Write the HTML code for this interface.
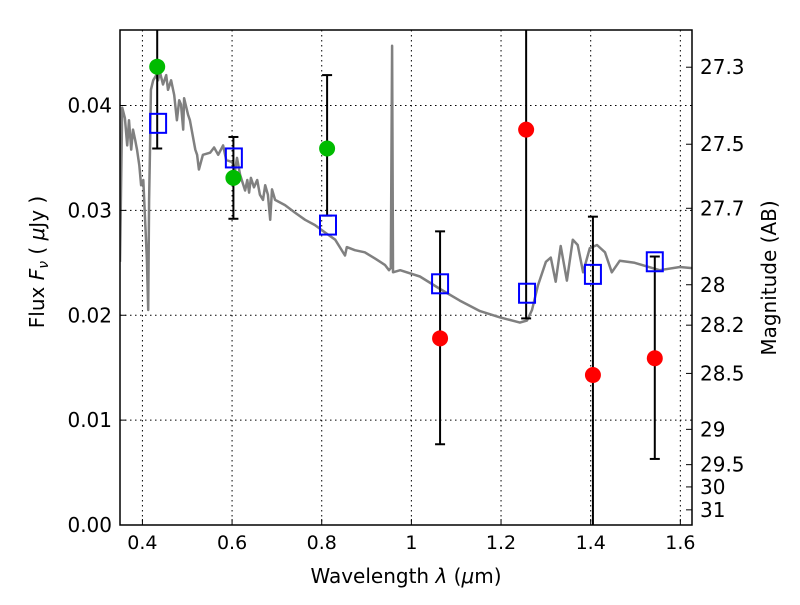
<!DOCTYPE html>
<html><head><meta charset="utf-8"><style>
body{margin:0;background:#fff;}
svg{font-family:"DejaVu Sans","Liberation Sans",sans-serif;}
</style></head><body>
<svg id="chart" width="800" height="600" viewBox="0 0 800 600" xmlns="http://www.w3.org/2000/svg">
<rect width="800" height="600" fill="#fff"/>
<g id="grid"></g>
<g id="spec"></g>
<g id="errs"></g>
<g id="marks"></g>
<g id="axes"></g>
<text x="406" y="583" font-size="20" text-anchor="middle">Wavelength  <tspan font-style="italic">λ</tspan> (<tspan font-style="italic">μ</tspan>m)</text>
<text transform="translate(44,262) rotate(-90)" font-size="20" text-anchor="middle">Flux  <tspan font-style="italic">F<tspan font-size="14" dy="4">ν</tspan></tspan><tspan dy="-4">  ( </tspan><tspan font-style="italic">μ</tspan>Jy )</text>
<text transform="translate(776,278) rotate(-90)" font-size="20" text-anchor="middle">Magnitude (AB)</text>
</svg>
<script>
const xTicks=[0.4,0.6,0.8,1,1.2,1.4,1.6];
const xTickLabels=["0.4","0.6","0.8","1","1.2","1.4","1.6"];
const yTicks=[0,0.01,0.02,0.03,0.04];
const yTickLabels=["0.00","0.01","0.02","0.03","0.04"];
const magTicks=[27.3,27.5,27.7,28,28.2,28.5,29,29.5,30,31];
const magTickLabels=["27.3","27.5","27.7","28","28.2","28.5","29","29.5","30","31"];
const specWave=[0.350,0.355,0.361,0.366,0.370,0.375,0.379,0.384,0.388,0.393,0.397,0.402,0.406,0.410,0.413,0.415,0.417,0.419,0.424,0.431,0.435,0.439,0.446,0.453,0.457,0.464,0.471,0.477,0.482,0.486,0.491,0.493,0.502,0.506,0.518,0.522,0.526,0.535,0.551,0.560,0.569,0.580,0.587,0.600,0.607,0.611,0.618,0.629,0.634,0.638,0.642,0.649,0.656,0.662,0.669,0.674,0.680,0.685,0.689,0.696,0.718,0.740,0.763,0.785,0.807,0.830,0.852,0.856,0.874,0.896,0.919,0.941,0.950,0.954,0.957,0.959,0.975,1.019,1.064,1.108,1.153,1.198,1.242,1.258,1.269,1.282,1.300,1.311,1.322,1.333,1.347,1.360,1.371,1.383,1.398,1.414,1.432,1.447,1.465,1.498,1.554,1.599,1.626];
const specFlux=[0.0251,0.0398,0.0388,0.0362,0.0386,0.0358,0.0377,0.0367,0.0358,0.0343,0.0324,0.0329,0.0291,0.0253,0.0205,0.0310,0.0358,0.0415,0.0424,0.0429,0.0424,0.0432,0.0420,0.0429,0.0415,0.0424,0.0410,0.0386,0.0405,0.0401,0.0377,0.0407,0.0391,0.0386,0.0358,0.0353,0.0339,0.0353,0.0355,0.0360,0.0353,0.0362,0.0348,0.0346,0.0339,0.0350,0.0334,0.0319,0.0329,0.0317,0.0331,0.0322,0.0329,0.0315,0.0310,0.0324,0.0315,0.0291,0.0320,0.0310,0.0305,0.0298,0.0291,0.0286,0.0279,0.0272,0.0257,0.0265,0.0262,0.0260,0.0254,0.0248,0.0243,0.0245,0.0457,0.0241,0.0243,0.0237,0.0225,0.0214,0.0204,0.0198,0.0193,0.0195,0.0205,0.0228,0.0251,0.0255,0.0232,0.0266,0.0233,0.0272,0.0267,0.0241,0.0264,0.0267,0.0260,0.0241,0.0252,0.0250,0.0243,0.0246,0.0245];
const obsWave=[0.433,0.603,0.812,1.064,1.256,1.405,1.543];
const obsFlux=[0.0437,0.0331,0.0359,0.0178,0.0377,0.0143,0.0159];
const obsLow=[0.0359,0.0292,0.0295,0.0077,0.0197,-0.002,0.0063];
const obsHigh=[0.060,0.0370,0.0429,0.0280,0.060,0.0294,0.0256];
const obsCapLow=[true,true,true,true,true,false,true];
const obsCapHigh=[false,true,true,true,false,true,true];
const obsColor=["#00bb00","#00bb00","#00bb00","#ff0000","#ff0000","#ff0000","#ff0000"];
const modelWave=[0.435,0.604,0.814,1.064,1.258,1.405,1.543];
const modelFlux=[0.0383,0.0350,0.0286,0.0230,0.0221,0.0239,0.0251];

const L=120,R=692,T=30,B=525,X0=0.35,X1=1.626,Y0=0,Y1=0.0472;
const xs=v=>L+(v-X0)/(X1-X0)*(R-L);
const ys=v=>B-(v-Y0)/(Y1-Y0)*(B-T);
const NS="http://www.w3.org/2000/svg";
function mk(tag,attrs,parent){const e=document.createElementNS(NS,tag);for(const k in attrs)e.setAttribute(k,attrs[k]);parent.appendChild(e);return e;}
const grid=document.getElementById('grid'),spec=document.getElementById('spec'),errs=document.getElementById('errs'),marks=document.getElementById('marks'),axes=document.getElementById('axes');
const clip=mk('clipPath',{id:'pc'},document.getElementById('chart'));
mk('rect',{x:L,y:T,width:R-L,height:B-T},clip);

xTicks.forEach((v,i)=>{
  const g=mk('line',{x1:xs(v),x2:xs(v),y1:T,y2:B,stroke:'#000','stroke-dasharray':'1.5,3.5','stroke-width':1},grid);
  
  
  const t=mk('line',{x1:xs(v),x2:xs(v),y1:B,y2:B-6,stroke:'#000'},axes);
  
  
  const lb=mk('text',{x:xs(v),y:B+24,'font-size':19,'text-anchor':'middle'},axes);
  lb.textContent=xTickLabels[i];
  
  
});
yTicks.forEach((v,i)=>{
  const g=mk('line',{x1:L,x2:R,y1:ys(v),y2:ys(v),stroke:'#000','stroke-dasharray':'1.5,3.5','stroke-width':1},grid);
  
  
  const t=mk('line',{x1:L,x2:L+6,y1:ys(v),y2:ys(v),stroke:'#000'},axes);
  
  
  const lb=mk('text',{x:L-8,y:ys(v)+7,'font-size':20,'text-anchor':'end'},axes);
  lb.textContent=yTickLabels[i];
  
  
});
magTicks.forEach((m,i)=>{
  const f=Math.pow(10,(23.9-m)/2.5);
  const t=mk('line',{x1:R,x2:R-6,y1:ys(f),y2:ys(f),stroke:'#000'},axes);
  
  
  const lb=mk('text',{x:R+8,y:ys(f)+7,'font-size':20},axes);
  lb.textContent=magTickLabels[i];
  
  
});
const pts=specWave.map((w,i)=>xs(w).toFixed(1)+','+ys(specFlux[i]).toFixed(1)).join(' ');
const pl=mk('polyline',{points:pts,fill:'none',stroke:'#808080','stroke-width':2.5,'stroke-linejoin':'round','clip-path':'url(#pc)'},spec);


obsWave.forEach((w,i)=>{
  const x=xs(w);
  const ln=mk('line',{x1:x,x2:x,y1:ys(obsLow[i]),y2:ys(obsHigh[i]),stroke:'#000','stroke-width':2,'clip-path':'url(#pc)'},errs);
  
  
  if(obsCapLow[i]){const c=mk('line',{x1:x-5,x2:x+5,y1:ys(obsLow[i]),y2:ys(obsLow[i]),stroke:'#000','stroke-width':2},errs);
    
    }
  if(obsCapHigh[i]){const c=mk('line',{x1:x-5,x2:x+5,y1:ys(obsHigh[i]),y2:ys(obsHigh[i]),stroke:'#000','stroke-width':2},errs);
    
    }
});
modelWave.forEach((w,i)=>{
  const s=mk('rect',{x:xs(w)-8,y:ys(modelFlux[i])-9.5,width:16,height:19,fill:'none',stroke:'#0000ff','stroke-width':2},marks);
  
  
});
obsWave.forEach((w,i)=>{
  const c=mk('circle',{cx:xs(w),cy:ys(obsFlux[i]),r:8,fill:obsColor[i]},marks);
  
  
});
const fr=mk('rect',{x:L,y:T,width:R-L,height:B-T,fill:'none',stroke:'#000','stroke-width':1.5},axes);


</script>
</body></html>
